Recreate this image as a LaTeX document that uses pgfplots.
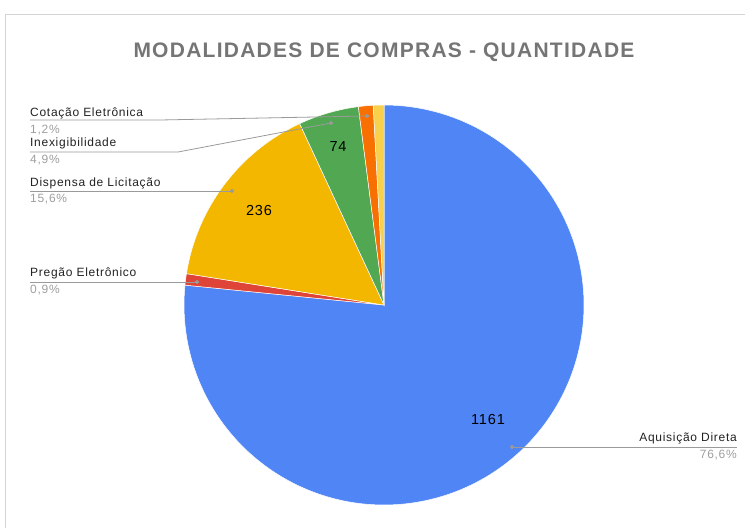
\documentclass[border=0pt]{standalone}
\usepackage{fontspec}
\setmainfont{Liberation Sans}
\newfontfamily\trackfont[LetterSpace=6]{Liberation Sans}
\usepackage{pgfplots}
\pgfplotsset{compat=1.18}
\definecolor{cBlue}{HTML}{4F85F4}
\definecolor{cRed}{HTML}{DE4437}
\definecolor{cYellow}{HTML}{F3B700}
\definecolor{cGreen}{HTML}{52A852}
\definecolor{cOrange}{HTML}{F87001}
\definecolor{cLight}{HTML}{F8D04C}
\definecolor{titlegray}{HTML}{757575}
\definecolor{labgray}{HTML}{222222}
\definecolor{pctgray}{HTML}{9E9E9E}
\definecolor{linegray}{HTML}{9A9A9A}
\definecolor{framegray}{HTML}{D4D4D4}
% values (quantities), in drawing order (clockwise from top)
\def\T{1516}%
\pgfmathsetmacro\cA{0}%
\pgfmathsetmacro\cB{1161}%        Aquisicao Direta
\pgfmathsetmacro\cC{\cB+14}%      Pregao Eletronico
\pgfmathsetmacro\cD{\cC+236}%     Dispensa de Licitacao
\pgfmathsetmacro\cE{\cD+74}%      Inexigibilidade
\pgfmathsetmacro\cF{\cE+18}%      Cotacao Eletronica
\pgfmathsetmacro\cG{\cF+13}%      outros
\pgfmathsetmacro\aA{90-360*(\cA/\T)}%
\pgfmathsetmacro\aB{90-360*(\cB/\T)}%
\pgfmathsetmacro\aC{90-360*(\cC/\T)}%
\pgfmathsetmacro\aD{90-360*(\cD/\T)}%
\pgfmathsetmacro\aE{90-360*(\cE/\T)}%
\pgfmathsetmacro\aF{90-360*(\cF/\T)}%
\pgfmathsetmacro\aG{90-360*(\cG/\T)}%
\begin{document}%
\begin{tikzpicture}
\useasboundingbox (0,0) rectangle (745pt,528pt);
\begin{axis}[at={(0,0)}, anchor=south west, width=745pt, height=528pt,
  scale only axis, xmin=0, xmax=745, ymin=0, ymax=528, hide axis, clip=false]
% frame
\addplot[framegray, line width=1pt, no markers] coordinates {(5,0) (5,513) (745,513)};
% slices
\addplot[fill=cBlue, draw=white, line width=0.5pt, domain=\aB:\aA, samples=150, variable=\t] ({384+200*cos(\t)},{223+200*sin(\t)}) -- (axis cs:384,223) -- cycle;
\addplot[fill=cRed, draw=white, line width=0.5pt, domain=\aC:\aB, samples=10, variable=\t] ({384+200*cos(\t)},{223+200*sin(\t)}) -- (axis cs:384,223) -- cycle;
\addplot[fill=cYellow, draw=white, line width=0.5pt, domain=\aD:\aC, samples=60, variable=\t] ({384+200*cos(\t)},{223+200*sin(\t)}) -- (axis cs:384,223) -- cycle;
\addplot[fill=cGreen, draw=white, line width=0.5pt, domain=\aE:\aD, samples=20, variable=\t] ({384+200*cos(\t)},{223+200*sin(\t)}) -- (axis cs:384,223) -- cycle;
\addplot[fill=cOrange, draw=white, line width=0.5pt, domain=\aF:\aE, samples=10, variable=\t] ({384+200*cos(\t)},{223+200*sin(\t)}) -- (axis cs:384,223) -- cycle;
\addplot[fill=cLight, draw=white, line width=0.5pt, domain=\aG:\aF, samples=10, variable=\t] ({384+200*cos(\t)},{223+200*sin(\t)}) -- (axis cs:384,223) -- cycle;
% leader lines
\addplot[linegray, line width=0.8pt, no markers] coordinates {(30,408) (160,408) (367,412)};
\addplot[linegray, line width=0.8pt, no markers] coordinates {(30,376) (178,376) (331,405)};
\addplot[linegray, line width=0.8pt, no markers] coordinates {(30,337) (232,337)};
\addplot[linegray, line width=0.8pt, no markers] coordinates {(30,246) (197,246)};
\addplot[linegray, line width=0.8pt, no markers] coordinates {(512,81) (737,81)};
\addplot[only marks, mark=*, mark size=1.8pt, mark options={fill=linegray, draw=linegray}] coordinates {(367,412) (331,405) (232,337) (197,246) (512,81)};
% title
\node[font=\trackfont\fontsize{21}{24}\selectfont\bfseries, text=titlegray] at (axis cs:384,476) {MODALIDADES DE COMPRAS - QUANTIDADE};
% labels
\tikzset{lab/.style={font=\trackfont\fontsize{12}{14}\selectfont, text=labgray, inner sep=0pt},
         pct/.style={font=\trackfont\fontsize{12}{14}\selectfont, text=pctgray, inner sep=0pt},
         val/.style={font=\trackfont\fontsize{14.5}{17}\selectfont, text=black, inner sep=0pt}}
\node[lab, anchor=base west] at (axis cs:30,411) {Cotação Eletrônica};
\node[pct, anchor=base west] at (axis cs:30,394) {1,2\%};
\node[lab, anchor=base west] at (axis cs:30,381) {Inexigibilidade};
\node[pct, anchor=base west] at (axis cs:30,364) {4,9\%};
\node[lab, anchor=base west] at (axis cs:30,341) {Dispensa de Licitação};
\node[pct, anchor=base west] at (axis cs:30,325) {15,6\%};
\node[lab, anchor=base west] at (axis cs:30,251) {Pregão Eletrônico};
\node[pct, anchor=base west] at (axis cs:30,234) {0,9\%};
\node[lab, anchor=base east] at (axis cs:737,86) {Aquisição Direta};
\node[pct, anchor=base east] at (axis cs:737,69) {76,6\%};
% values
\node[val] at (axis cs:338,381) {74};
\node[val] at (axis cs:259,317) {236};
\node[val] at (axis cs:488,108) {1161};
\end{axis}
\end{tikzpicture}%
\end{document}
